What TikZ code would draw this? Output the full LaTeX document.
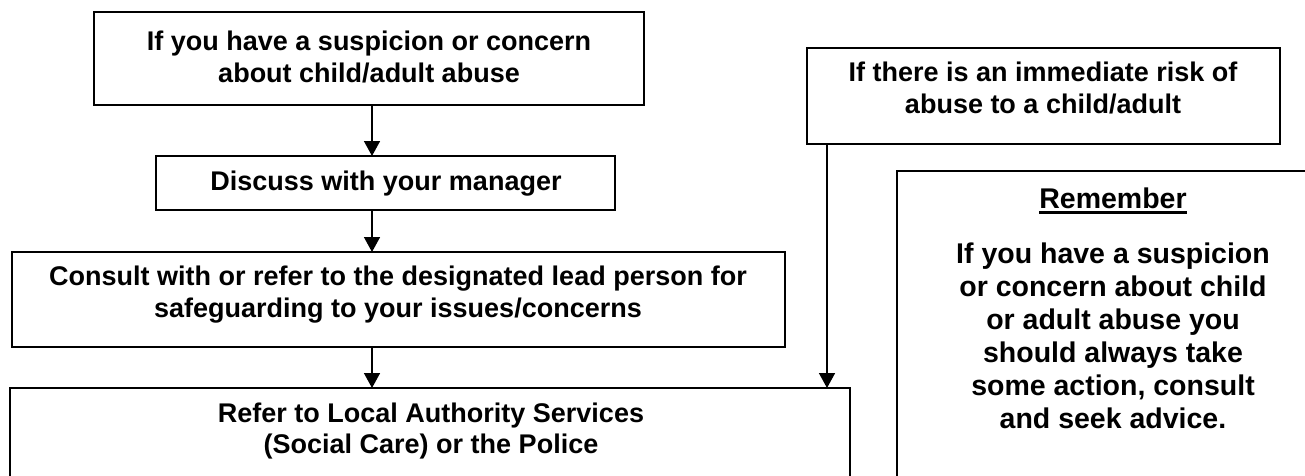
\documentclass[tikz,border=0pt]{standalone}
\usepackage{fontspec}
\setmainfont{Liberation Sans}
\usetikzlibrary{arrows.meta}
\begin{document}
\begin{tikzpicture}[x=1pt,y=-1pt,
  box/.style={draw, line width=1.6pt, rectangle, anchor=north west, inner sep=0pt, outer sep=0pt},
  lbl/.style={font=\fontsize{27}{32}\selectfont\bfseries, align=center, inner sep=0pt},
  note/.style={font=\fontsize{28.5}{33}\selectfont\bfseries, align=center, inner sep=0pt},
  arr/.style={line width=1.6pt, -{Triangle[width=16pt,length=15pt]}}]
\useasboundingbox (0,0) rectangle (1305,476);
\clip (0,0) rectangle (1305,476);
\fill[white] (0,0) rectangle (1305,476);

% flow boxes
\node[box, minimum width=550pt, minimum height=93pt] (concern) at (94,12) {};
\node[box, minimum width=459pt, minimum height=54pt] (discuss) at (156,156) {};
\node[box, minimum width=773pt, minimum height=95pt] (consult) at (12,252) {};
\node[box, minimum width=840pt, minimum height=112pt] (refer) at (10,388) {};
\node[box, minimum width=473pt, minimum height=96pt] (risk) at (807,48) {};
\node[box, minimum width=433pt, minimum height=329pt] (remember) at (897,171) {};

% texts
\node[lbl] (tconcern) at (369,57) {If you have a suspicion or concern\\about child/adult abuse};
\node[lbl] (tdiscuss) at (386,184) {Discuss with your manager};
\node[lbl] (tconsult) at (398,295) {Consult with or refer to the designated lead person for\\safeguarding to your issues/concerns};
\node[lbl, font=\fontsize{27}{31}\selectfont\bfseries] (trefer) at (431,431) {Refer to Local Authority Services\\(Social Care) or the Police};
\node[lbl] (trisk) at (1043,88) {If there is an immediate risk of\\abuse to a child/adult};
\node[note, anchor=base] (thead) at (1113,208) {Remember};
\draw[line width=2.4pt] ([yshift=-4.5pt]thead.base west) -- ([yshift=-4.5pt]thead.base east);
\node[note] (tnote) at (1113,336) {If you have a suspicion\\or concern about child\\or adult abuse you\\should always take\\some action, consult\\and seek advice.};

% connectors
\coordinate (ax) at (372,0);
\coordinate (bx) at (827,0);
\draw[arr] (concern.south -| ax) -- (discuss.north -| ax);
\draw[arr] (discuss.south -| ax) -- (consult.north -| ax);
\draw[arr] (consult.south -| ax) -- (refer.north -| ax);
\draw[arr] (risk.south -| bx) -- (refer.north -| bx);
\end{tikzpicture}
\end{document}
